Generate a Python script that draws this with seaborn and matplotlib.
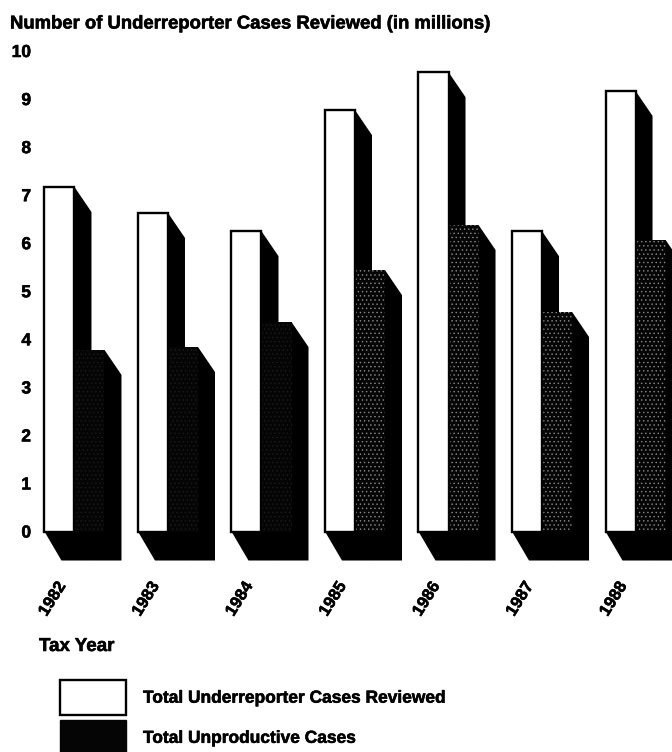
import matplotlib
matplotlib.use("Agg")
import matplotlib.pyplot as plt
import matplotlib.patheffects as pe
from matplotlib.patches import Patch
from matplotlib.transforms import ScaledTranslation
import pandas as pd
import seaborn as sns

years = ["1982", "1983", "1984", "1985", "1986", "1987", "1988"]
reviewed = [7.17, 6.63, 6.25, 8.77, 9.56, 6.25, 9.17]
unproductive = [3.78, 3.84, 4.36, 5.44, 6.38, 4.57, 6.07]
label_reviewed = "Total Underreporter Cases Reviewed"
label_unproductive = "Total Unproductive Cases"
y_ticks = list(range(11))

W, H = 672, 752
sns.set_theme(style="white")
plt.rcParams["font.family"] = ["Liberation Sans", "DejaVu Sans"]
plt.rcParams["hatch.linewidth"] = 0.5

df = pd.DataFrame({
    "year": years * 2,
    "cases": reviewed + unproductive,
    "series": [label_reviewed] * len(years) + [label_unproductive] * len(years),
})

fig = plt.figure(figsize=(W / 100, H / 100), dpi=100, facecolor="white")
ax = fig.add_axes([38 / W, (H - 561.5) / H, (W - 38) / W, (561.5 - 51) / H])
ax.patch.set_alpha(0)

sns.barplot(data=df, x="year", y="cases", hue="series", order=years,
            palette=["white", "black"], width=0.642, gap=0, legend=False,
            saturation=1, ax=ax)

ax.set_xlim(-0.39, 6.39)
ax.set_ylim(-0.624, 10)

# 3-D extrusion offsets, in data units
dx = 17 / 93.5
dy_top = 25 / 48.05
dy_base = 29 / 48.05
overlap = 2 / 93.5

white_bars, dark_bars = ax.containers[0], ax.containers[1]
for bars in (white_bars, dark_bars):
    for b in bars:
        x0, x1, h = b.get_x(), b.get_x() + b.get_width(), b.get_height()
        ax.fill([x1 - overlap, x1, x1 + dx, x1 + dx, x0 + dx, x0, x1 - overlap],
                [h - 0.02, h, h - dy_top, -dy_base, -dy_base, 0, 0],
                color="black", lw=0, zorder=1, clip_on=False)
for b in white_bars:
    b.set_edgecolor("black")
    b.set_linewidth(1.7)
    b.set_zorder(3)
for i, b in enumerate(dark_bars):
    b.set_facecolor("#050505")
    b.set_linewidth(0)
    b.set_zorder(2)
    b.set_hatch("....")
    b.set_edgecolor("#8a8a8a" if i >= 3 else "#1c1c1c")

sns.despine(ax=ax, left=True, bottom=True)
bold = {"fontweight": "bold", "color": "black"}
ax.set_yticks(y_ticks)
ax.set_yticklabels([str(t) for t in y_ticks], fontsize=12.5, **bold)
ax.tick_params(axis="y", length=0, pad=5)
ax.tick_params(axis="x", length=0, pad=27)
ax.set_xticks(range(len(years)))
ax.set_xticklabels(years, rotation=58, fontsize=12, ha="center", va="center", **bold)
shift = ScaledTranslation(-22 / 100, 0, fig.dpi_scale_trans)
for lab in ax.get_xticklabels():
    lab.set_transform(lab.get_transform() + shift)

ax.set_xlabel("Tax Year", fontsize=13.5, labelpad=0, **bold)
ax.xaxis.set_label_coords((39 - 38) / (W - 38), -(631 + 7 - 561.5) / (561.5 - 51))
ax.xaxis.label.set_ha("left")
ax.set_ylabel("Number of Underreporter Cases Reviewed (in millions)", rotation=0,
              ha="left", va="center", fontsize=13.3, **bold)
ax.yaxis.set_label_coords((10 - 38) / (W - 38), (561.5 - 24) / (561.5 - 51))

handles = [Patch(facecolor="white", edgecolor="black", linewidth=1.7, label=label_reviewed),
           Patch(facecolor="#050505", edgecolor="#050505", label=label_unproductive)]
fig.legend(handles=handles, loc="upper left", bbox_to_anchor=(60 / W, 1 - 680 / H),
           bbox_transform=fig.transFigure, frameon=False,
           handlelength=3.8, handleheight=2.72, labelspacing=0.3, handletextpad=0.98,
           borderaxespad=0, borderpad=0, labelcolor="black", prop={"weight": "bold", "size": 12.5})

stroke = [pe.withStroke(linewidth=0.4, foreground="black")]
for t in fig.findobj(matplotlib.text.Text):
    t.set_path_effects(stroke)

fig.savefig("out.png", dpi=100)
